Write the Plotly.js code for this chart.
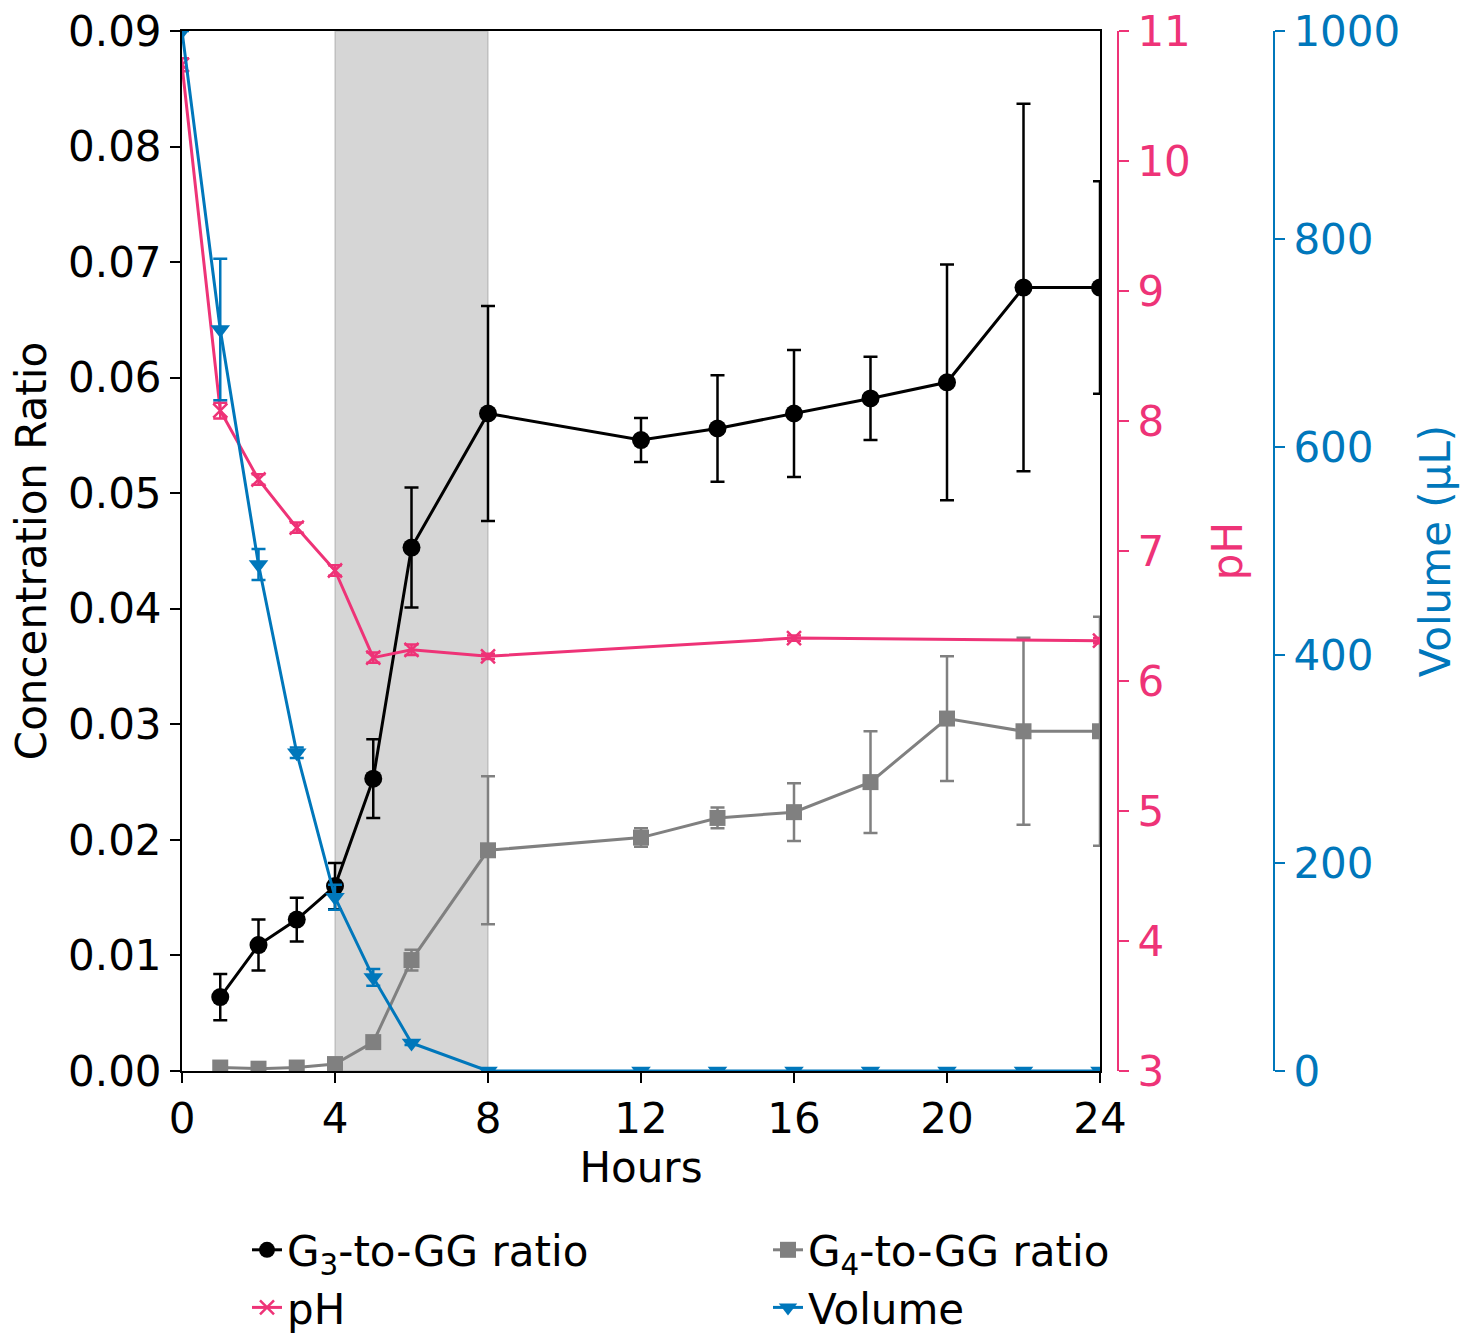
<!DOCTYPE html>
<html>
<head>
<meta charset="utf-8">
<script src="https://cdn.plot.ly/plotly-3.0.1.min.js"></script>
<style>html,body{margin:0;padding:0;background:#fff;}</style>
</head>
<body>
<div id="chart" style="width:1461px;height:1343px;"></div>
<script>
// ---- data ----
const hoursRatio = [1, 2, 3, 4, 5, 6, 8, 12, 14, 16, 18, 20, 22, 24];
const g3Ratio    = [0.0064, 0.0109, 0.0131, 0.0160, 0.0253, 0.0453, 0.0569, 0.0546, 0.0556, 0.0569, 0.0582, 0.0596, 0.0678, 0.0678];
const g3Err      = [0.0020, 0.0022, 0.0019, 0.0020, 0.0034, 0.0052, 0.0093, 0.0019, 0.0046, 0.0055, 0.0036, 0.0102, 0.0159, 0.0092];
const g4Ratio    = [0.0003, 0.0002, 0.0003, 0.0006, 0.0025, 0.0096, 0.0191, 0.0202, 0.0219, 0.0224, 0.0250, 0.0305, 0.0294, 0.0294];
const g4Err      = [0.0001, 0.0001, 0.0001, 0.0002, 0.0003, 0.0009, 0.0064, 0.0008, 0.0009, 0.0025, 0.0044, 0.0054, 0.0081, 0.0099];

const hoursPH = [0, 1, 2, 3, 4, 5, 6, 8, 16, 24];
const pHValues = [10.74, 8.08, 7.55, 7.18, 6.85, 6.18, 6.24, 6.19, 6.33, 6.31];
const pHErr    = [0.05, 0.06, 0.04, 0.04, 0.04, 0.04, 0.04, 0.02, 0.02, 0.02];

const hoursVol = [0, 1, 2, 3, 4, 5, 6, 8, 12, 14, 16, 18, 20, 22, 24];
const volume   = [1000, 713, 487, 306, 167, 90, 27, 0, 0, 0, 0, 0, 0, 0, 0];
const volErr   = [0, 68, 15, 5, 12, 8, 2, 0, 0, 0, 0, 0, 0, 0, 0];

const xTicks = [0, 4, 8, 12, 16, 20, 24];
const shadeStart = 4, shadeEnd = 8;

// ---- styles ----
const FONT = "DejaVu Sans";
const FS = 42;
const PINK = "#EE3377";
const BLUE = "#0077BB";
const GRAY = "#808080";

const traces = [
  {
    x: hoursRatio, y: g3Ratio, type: "scatter", mode: "lines+markers",
    name: "G<sub>3</sub>-to-GG ratio", legend: "legend", legendgroup: "g3",
    line: {color: "black", width: 3},
    marker: {symbol: "circle", size: 18, color: "black"},
    error_y: {type: "data", array: g3Err, visible: true, color: "black", thickness: 2.5, width: 7},
    xaxis: "x", yaxis: "y"
  },
  {
    x: hoursRatio, y: g4Ratio, type: "scatter", mode: "lines+markers",
    name: "G<sub>4</sub>-to-GG ratio", legend: "legend2", legendgroup: "g4",
    line: {color: GRAY, width: 3},
    marker: {symbol: "square", size: 16, color: GRAY},
    error_y: {type: "data", array: g4Err, visible: true, color: GRAY, thickness: 2.5, width: 7},
    xaxis: "x", yaxis: "y"
  },
  {
    x: hoursPH, y: pHValues, type: "scatter", mode: "lines+markers",
    name: "pH", legend: "legend", legendgroup: "ph",
    line: {color: PINK, width: 3},
    marker: {symbol: "x-thin-open", size: 14, color: PINK, line: {color: PINK, width: 2.5}},
    error_y: {type: "data", array: pHErr, visible: true, color: PINK, thickness: 2.5, width: 7},
    xaxis: "x", yaxis: "y2"
  },
  {
    x: hoursVol, y: volume, type: "scatter", mode: "lines+markers",
    name: "Volume", legend: "legend2", legendgroup: "vol",
    line: {color: BLUE, width: 3},
    marker: {symbol: "triangle-down", size: 17, color: BLUE},
    error_y: {type: "data", array: volErr, visible: true, color: BLUE, thickness: 2.5, width: 7},
    xaxis: "x", yaxis: "y3"
  }
];

const W = 1461, H = 1343;
const plotL = 182, plotR = 1100, plotT = 31, plotB = 1071;
const paperR = 1451;                       // right edge of the paper area
const pw = paperR - plotL, ph = plotB - plotT;
const pxToPaperX = px => (px - plotL) / pw;
const pxToPaperY = py => (plotB - py) / ph;

const layout = {
  width: W, height: H,
  margin: {l: plotL, r: W - paperR, t: plotT, b: H - plotB, pad: 0, autoexpand: false},
  paper_bgcolor: "white", plot_bgcolor: "white",
  font: {family: FONT, size: FS, color: "black"},
  showlegend: true,
  xaxis: {
    domain: [0, pxToPaperX(plotR)],
    range: [0, 24], tickvals: xTicks, ticktext: xTicks.map(String),
    showgrid: false, zeroline: false, showline: true, linecolor: "black", linewidth: 2,
    mirror: true, ticks: "outside", ticklen: 10, tickwidth: 2, tickcolor: "black",
    tickfont: {family: FONT, size: FS, color: "black"},
    title: {text: "Hours", font: {family: FONT, size: FS, color: "black"}, standoff: 4}
  },
  yaxis: {
    range: [0, 0.09], dtick: 0.01, tickformat: ".2f",
    showgrid: false, zeroline: false, showline: true, linecolor: "black", linewidth: 2,
    mirror: true, ticks: "outside", ticklen: 10, tickwidth: 2, tickcolor: "black",
    tickfont: {family: FONT, size: FS, color: "black"},
    title: {text: "Concentration Ratio", font: {family: FONT, size: FS, color: "black"}, standoff: 8}
  },
  yaxis2: {
    overlaying: "y", side: "right", anchor: "free", position: pxToPaperX(1118),
    range: [3, 11], dtick: 1,
    showgrid: false, zeroline: false, showline: true, linecolor: PINK, linewidth: 2,
    ticks: "outside", ticklen: 10, tickwidth: 2, tickcolor: PINK,
    tickfont: {family: FONT, size: FS, color: PINK},
    title: {text: "pH", font: {family: FONT, size: FS, color: PINK}, standoff: 22}
  },
  yaxis3: {
    overlaying: "y", side: "right", anchor: "free", position: pxToPaperX(1274),
    range: [0, 1000], dtick: 200,
    showgrid: false, zeroline: false, showline: true, linecolor: BLUE, linewidth: 2,
    ticks: "outside", ticklen: 10, tickwidth: 2, tickcolor: BLUE,
    tickfont: {family: FONT, size: FS, color: BLUE},
    title: {text: "Volume (µL)", font: {family: FONT, size: FS, color: BLUE}, standoff: 20}
  },
  shapes: [
    {
      type: "rect", xref: "x", yref: "paper", x0: shadeStart, x1: shadeEnd, y0: 0, y1: 1,
      fillcolor: "rgba(128,128,128,0.32)", line: {color: "rgba(128,128,128,0.25)", width: 2},
      layer: "below"
    }
  ],
  legend: {
    x: pxToPaperX(247), y: pxToPaperY(1216), xanchor: "left", yanchor: "top",
    orientation: "v", bgcolor: "rgba(0,0,0,0)", tracegroupgap: 0,
    font: {family: FONT, size: FS, color: "black"}
  },
  legend2: {
    x: pxToPaperX(768), y: pxToPaperY(1216), xanchor: "left", yanchor: "top",
    orientation: "v", bgcolor: "rgba(0,0,0,0)", tracegroupgap: 0,
    font: {family: FONT, size: FS, color: "black"}
  }
};

Plotly.newPlot("chart", traces, layout, {displayModeBar: false, staticPlot: true});
</script>
</body>
</html>
